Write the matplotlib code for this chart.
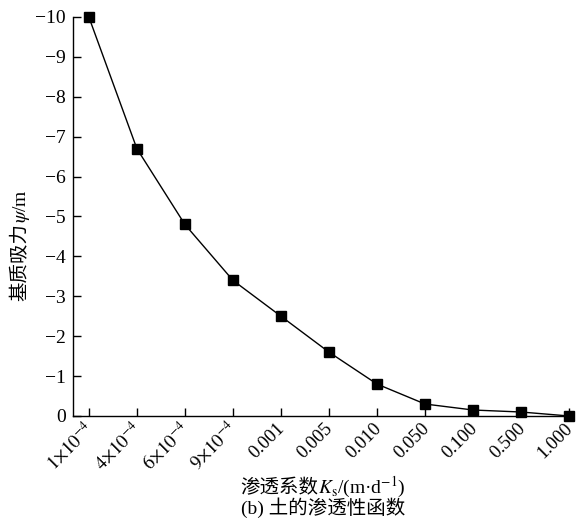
import numpy as np
import matplotlib
matplotlib.use('Agg')
import matplotlib.pyplot as plt

plt.rcParams['font.family'] = ['Liberation Serif', 'Noto Sans CJK SC']
plt.rcParams['mathtext.fontset'] = 'stix'

# data
ks_labels = [r'$1{\times}10^{-4}$', r'$4{\times}10^{-4}$', r'$6{\times}10^{-4}$', r'$9{\times}10^{-4}$',
             '0.001', '0.005', '0.010', '0.050', '0.100', '0.500', '1.000']
suction = [-10, -6.7, -4.8, -3.4, -2.5, -1.6, -0.8, -0.3, -0.15, -0.1, 0]
yticks = [0, -1, -2, -3, -4, -5, -6, -7, -8, -9, -10]

W, H = 577, 521
fig = plt.figure(figsize=(W / 100, H / 100), dpi=100)
ax = fig.add_axes([73 / W, 1 - 416 / H, 500 / W, 399 / H])

x = np.arange(len(ks_labels))
ax.plot(x, suction, color='black', lw=1.0, marker='s', ms=7, clip_on=False, zorder=3)

ax.set_xlim(-0.33, 10.08)
ax.set_ylim(0, -10)
ax.set_yticks(yticks)
ax.set_yticklabels(['0'] + ['\u2212%d' % (-v) for v in yticks[1:]], fontsize=14)
ax.set_xticks(x)
ax.set_xticklabels(ks_labels, rotation=45, ha='right', va='center_baseline',
                   rotation_mode='anchor', fontsize=13.5)

ax.spines['top'].set_visible(False)
ax.spines['right'].set_visible(False)
for s in ('left', 'bottom'):
    ax.spines[s].set_linewidth(1.0)
ax.tick_params(direction='in', length=6, width=1.0, pad=5)
ax.tick_params(axis='x', pad=6)


def chain(pieces, cx, cy, vertical=False, size=14):
    # lay text pieces end to end (mathtext can't fall back to CJK fonts)
    fig.canvas.draw()
    r = fig.canvas.get_renderer()
    rot = 90 if vertical else 0
    arts = [fig.text(0, 0, p, fontsize=size, rotation=rot, rotation_mode='anchor',
                     ha='left', va='baseline', transform=None) for p in pieces]
    lens = []
    for a in arts:
        bb = a.get_window_extent(r)
        lens.append(bb.height if vertical else bb.width)
    pos = -sum(lens) / 2
    for a, L in zip(arts, lens):
        if vertical:
            a.set_position((cx, cy + pos))
        else:
            a.set_position((cx + pos, cy))
        pos += L


chain(['基质吸力', r'$\psi$/m'], 26, H - 245, vertical=True)
chain(['渗透系数', r'$K_\mathrm{s}$/(m·d$^{-1}$)'], 323, H - 493)
chain(['(b) 土的渗透性函数'], 323, H - 514)

fig.savefig('out.png', dpi=100)
